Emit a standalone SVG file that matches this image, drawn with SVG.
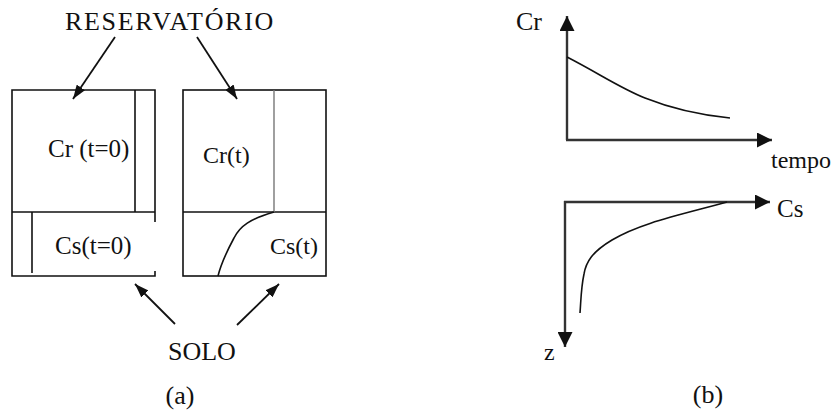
<svg xmlns="http://www.w3.org/2000/svg" width="840" height="416" viewBox="0 0 840 416">
<defs>
<style>
text{font-family:"Liberation Serif","Times New Roman",serif;fill:#111;font-size:24px}
.box{fill:none;stroke:#111;stroke-width:1.6}
.thin{fill:none;stroke:#777;stroke-width:1.4}
.curve{fill:none;stroke:#111;stroke-width:1.6}
.arr{fill:none;stroke:#111;stroke-width:1.8}
.axis{fill:none;stroke:#333;stroke-width:2.4}
</style>
<marker id="ah" viewBox="0 0 14 10" refX="14" refY="5" markerWidth="14" markerHeight="10" markerUnits="userSpaceOnUse" orient="auto"><path d="M0,0 L14,5 L0,10 z" fill="#111"/></marker>
<marker id="axh" viewBox="0 0 15 15" refX="15" refY="7.5" markerWidth="15" markerHeight="15" markerUnits="userSpaceOnUse" orient="auto"><path d="M0,0 L15,7.5 L0,15 z" fill="#111"/></marker>
</defs>
<rect width="840" height="416" fill="#fff"/>
<g id="box1">
<path class="box" d="M155,222 L155,90 L12,90 L12,276 L155,276 L155,271"/>
<line class="box" x1="12" y1="212" x2="155" y2="212"/>
<line class="box" x1="135" y1="90" x2="135" y2="212"/>
<line class="box" x1="32" y1="212" x2="32" y2="273"/>
<text x="48" y="157" style="font-size:25px">Cr (t=0)</text>
<text x="55" y="254" style="font-size:25px">Cs(t=0)</text>
</g>
<g id="box2">
<rect class="box" x="183" y="90" width="143" height="186"/>
<line class="box" x1="183" y1="212" x2="326" y2="212"/>
<line class="thin" x1="274" y1="90" x2="274" y2="212"/>
<path class="curve" d="M274,212 C250,219 240,226 234,238 C227,251 221,264 218,276"/>
<text x="203" y="163">Cr(t)</text>
<text x="270" y="254">Cs(t)</text>
</g>
<g id="labels">
<text x="65" y="30" style="font-size:26px;letter-spacing:1.7px">RESERVATÓRIO</text>
<text x="168" y="360" style="font-size:26px">SOLO</text>
<text x="180" y="404" text-anchor="middle" style="font-size:26px">(a)</text>
<text x="708" y="403" text-anchor="middle" style="font-size:26px">(b)</text>
</g>
<g id="connectors">
<line class="arr" x1="115" y1="37" x2="73" y2="99" marker-end="url(#ah)"/>
<line class="arr" x1="197" y1="37" x2="237" y2="99" marker-end="url(#ah)"/>
<line class="arr" x1="175" y1="324" x2="135" y2="284" marker-end="url(#ah)"/>
<line class="arr" x1="237" y1="325" x2="279" y2="284" marker-end="url(#ah)"/>
</g>
<g id="graph1">
<path class="axis" d="M567,140 L567,16" marker-end="url(#axh)"/>
<path class="axis" d="M566,140 L772,140" marker-end="url(#axh)"/>
<path class="curve" d="M567,57 C600,74 620,88 645,98 C675,110 700,115 730,118"/>
<text x="516" y="30" style="font-size:26px">Cr</text>
<text x="771" y="168">tempo</text>
</g>
<g id="graph2">
<path class="axis" d="M564,202 L770,202" marker-end="url(#axh)"/>
<path class="axis" d="M565,201 L565,347" marker-end="url(#axh)"/>
<path class="curve" d="M727,202 C680,215 640,223 612,240 C592,252 586,262 584,274 C581,288 581,300 580,313"/>
<text x="777" y="217" style="font-size:25px">Cs</text>
<text x="544" y="360">z</text>
</g>
</svg>
